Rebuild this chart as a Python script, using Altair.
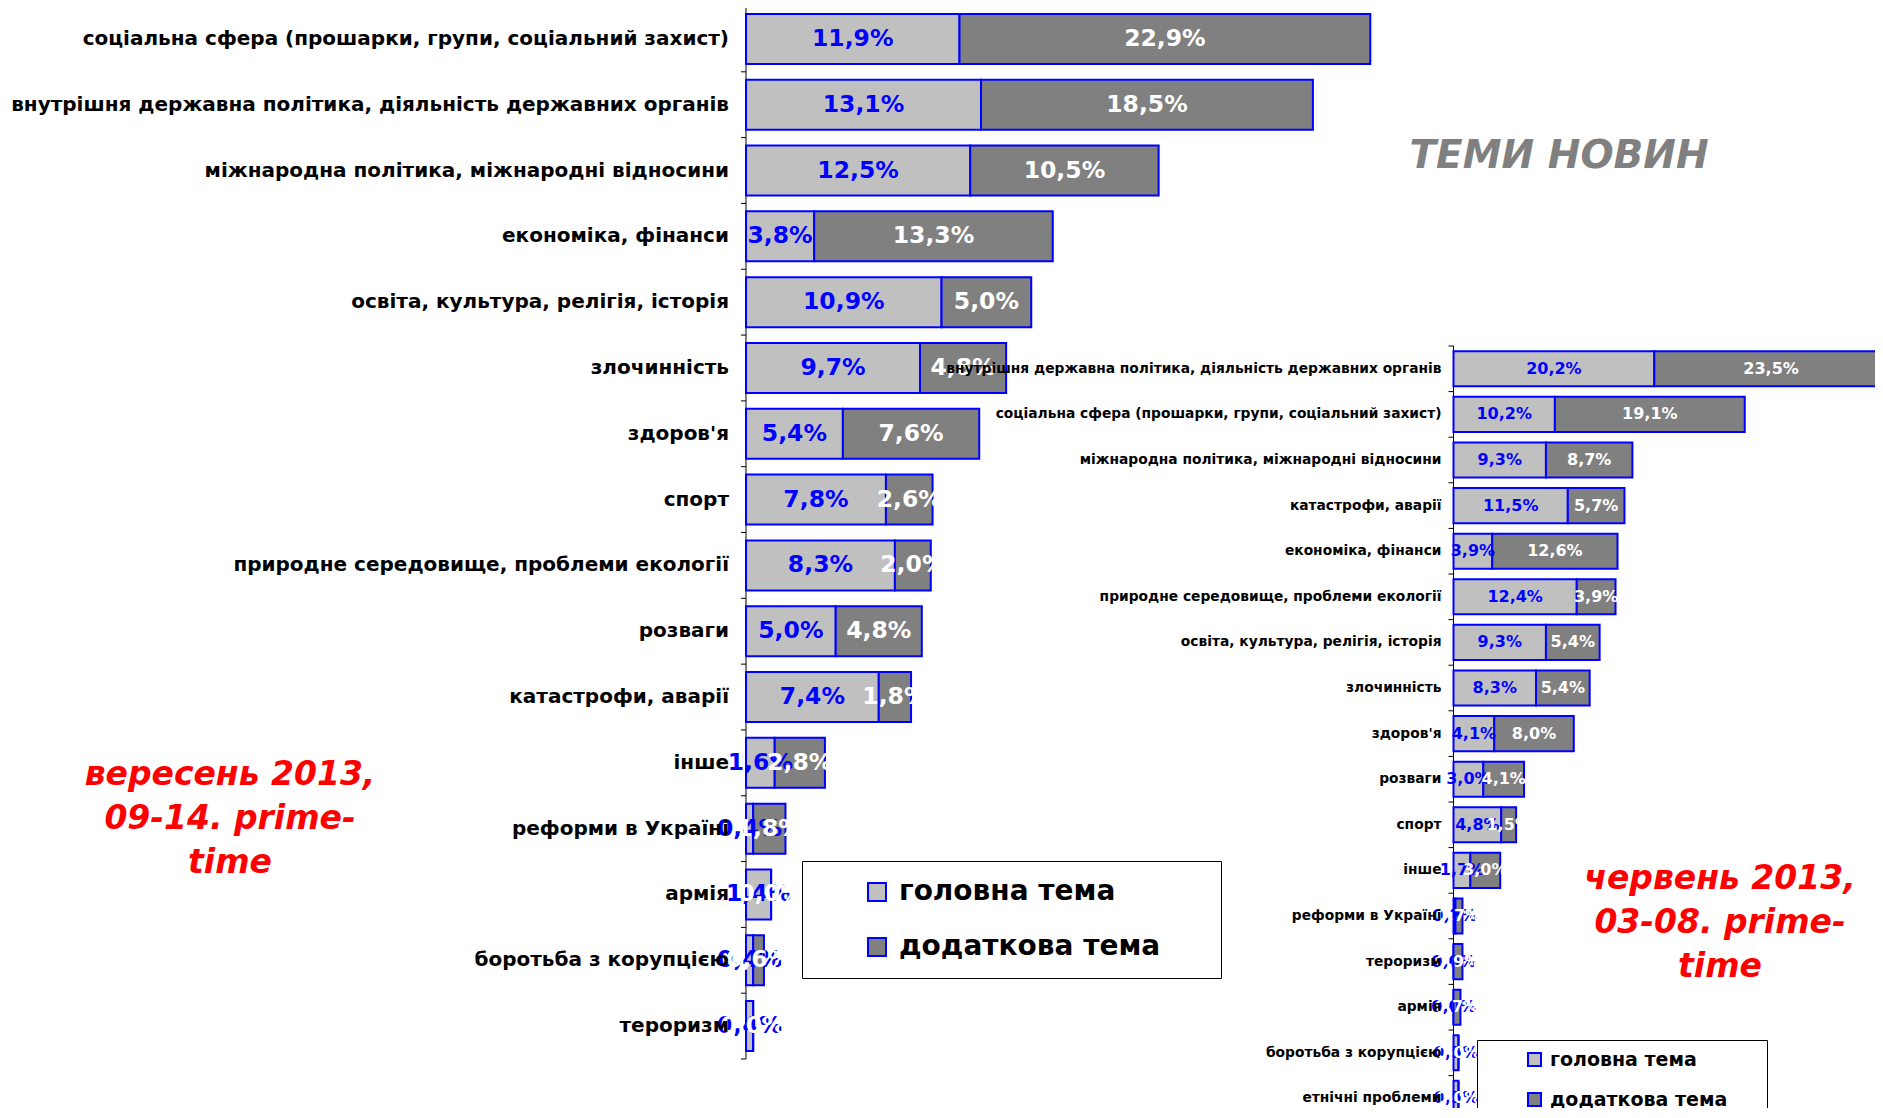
import altair as alt
import pandas as pd

# ---------------- data ----------------
cats_sep = [
    "соціальна сфера (прошарки, групи, соціальний захист)",
    "внутрішня державна політика, діяльність державних органів",
    "міжнародна політика, міжнародні відносини",
    "економіка, фінанси",
    "освіта, культура, релігія, історія",
    "злочинність",
    "здоров'я",
    "спорт",
    "природне середовище, проблеми екології",
    "розваги",
    "катастрофи, аварії",
    "інше",
    "реформи в Україні",
    "армія",
    "боротьба з корупцією",
    "тероризм",
]
main_sep = [11.9, 13.1, 12.5, 3.8, 10.9, 9.7, 5.4, 7.8, 8.3, 5.0, 7.4, 1.6, 0.4, 1.4, 0.4, 0.4]
add_sep = [22.9, 18.5, 10.5, 13.3, 5.0, 4.8, 7.6, 2.6, 2.0, 4.8, 1.8, 2.8, 1.8, 0.0, 0.6, 0.0]

cats_jun = [
    "внутрішня державна політика, діяльність державних органів",
    "соціальна сфера (прошарки, групи, соціальний захист)",
    "міжнародна політика, міжнародні відносини",
    "катастрофи, аварії",
    "економіка, фінанси",
    "природне середовище, проблеми екології",
    "освіта, культура, релігія, історія",
    "злочинність",
    "здоров'я",
    "розваги",
    "спорт",
    "інше",
    "реформи в Україні",
    "тероризм",
    "армія",
    "боротьба з корупцією",
    "етнічні проблеми",
]
main_jun = [20.2, 10.2, 9.3, 11.5, 3.9, 12.4, 9.3, 8.3, 4.1, 3.0, 4.8, 1.7, 0.2, 0.0, 0.0, 0.5, 0.5]
add_jun = [23.5, 19.1, 8.7, 5.7, 12.6, 3.9, 5.4, 5.4, 8.0, 4.1, 1.5, 3.0, 0.7, 0.9, 0.7, 0.0, 0.0]

series = ["головна тема", "додаткова тема"]
title_text = ["ТЕМИ НОВИН"]
note_sep = ["вересень 2013,", "09-14. prime-", "time"]
note_jun = ["червень 2013,", "03-08. prime-", "time"]

FONT = "DejaVu Sans"
BLUE = "#0000FF"


def fmt(v):
    return f"{v:.1f}".replace(".", ",") + "%"


def long_df(cats, main, add):
    rows = []
    for c, m, a in zip(cats, main, add):
        rows.append({"cat": c, "тема": series[0], "start": 0.0, "end": m,
                     "mid": m / 2, "label": fmt(m)})
        rows.append({"cat": c, "тема": series[1], "start": m, "end": m + a,
                     "mid": m + a / 2, "label": fmt(a)})
    return pd.DataFrame(rows)


def panel(cats, main, add, x_range, y_range, pad_in, pad_out,
          axis_font, value_font, label_gap, legend):
    df = long_df(cats, main, add)
    step = (y_range[1] - y_range[0]) / len(cats)
    yscale = alt.Scale(domain=cats, range=y_range, paddingInner=pad_in,
                       paddingOuter=pad_out)
    xscale = alt.Scale(domain=[0, 100], range=x_range)
    Y = alt.Y("cat:N", sort=None, scale=yscale, axis=None)
    X0 = alt.X("zero:Q", scale=xscale, axis=None)
    base = alt.Chart(df)
    bars = base.mark_bar(stroke=BLUE, strokeWidth=2, clip=True).encode(
        y=Y,
        x=alt.X("start:Q", scale=xscale, axis=None),
        x2="end:Q",
        color=alt.Color("тема:N", sort=series,
                        scale=alt.Scale(domain=series, range=["#C0C0C0", "#808080"]),
                        legend=legend),
    )
    t_main = base.transform_filter(alt.datum["тема"] == series[0]).mark_text(
        font=FONT, fontWeight="bold", fontSize=value_font, color=BLUE,
        baseline="middle", align="center", clip=True
    ).encode(y=Y, x=alt.X("mid:Q", scale=xscale, axis=None), text="label:N")
    t_add = base.transform_filter(alt.datum["тема"] == series[1]).mark_text(
        font=FONT, fontWeight="bold", fontSize=value_font, color="white",
        baseline="middle", align="center", clip=True
    ).encode(y=Y, x=alt.X("mid:Q", scale=xscale, axis=None), text="label:N")

    cat_df = pd.DataFrame({"cat": cats, "zero": 0.0})
    labels = alt.Chart(cat_df).mark_text(
        font=FONT, fontWeight="bold", fontSize=axis_font, color="black",
        align="right", baseline="middle", dx=-label_gap
    ).encode(y=Y, x=X0, text="cat:N")
    ticks_top = alt.Chart(cat_df).mark_rule(
        color="black", strokeWidth=1, yOffset=-step / 2, y2Offset=-step / 2,
        x2Offset=-5
    ).encode(y=Y, x=X0, x2="zero:Q")
    ticks_bot = alt.Chart(cat_df.tail(1)).mark_rule(
        color="black", strokeWidth=1, yOffset=step / 2, y2Offset=step / 2,
        x2Offset=-5
    ).encode(y=Y, x=X0, x2="zero:Q")
    dom_df = pd.DataFrame({"a": [cats[0]], "b": [cats[-1]], "zero": [0.0]})
    domain = alt.Chart(dom_df).mark_rule(
        color="black", strokeWidth=1, yOffset=-step / 2, y2Offset=step / 2
    ).encode(y=alt.Y("a:N", sort=None, scale=yscale, axis=None), y2="b:N", x=X0)
    return alt.layer(domain, ticks_top, ticks_bot, bars, t_main, t_add, labels)


PAD = "\u2800"
legend_left = alt.Legend(
    orient="none", legendX=794, legendY=853, title=" ", titleOrient="left",
    titlePadding=44, padding=17, strokeColor="black", fillColor="white",
    symbolType="square", symbolSize=324, symbolStrokeColor=BLUE,
    symbolStrokeWidth=2, labelFont=FONT, labelFontWeight="bold",
    labelFontSize=28, labelColor="black", rowPadding=27, labelOffset=8,
    labelLimit=2000,
    labelExpr="datum.label + '" + PAD * 2 + "'",
)
legend_right = alt.Legend(
    orient="none", legendX=1469, legendY=1032, title=" ", titleOrient="left",
    titlePadding=38, padding=10, strokeColor="black", fillColor="white",
    symbolType="square", symbolSize=169, symbolStrokeColor=BLUE,
    symbolStrokeWidth=2, labelFont=FONT, labelFontWeight="bold",
    labelFontSize=19, labelColor="black", rowPadding=19, labelOffset=6,
    labelLimit=2000,
    labelExpr="datum.label + '" + PAD * 2 + "'",
)

left = panel(cats_sep, main_sep, add_sep, [738, 2532], [-2, 1051], 0.24, 0.12,
             20, 23.5, 17, legend_left)
right = panel(cats_jun, main_jun, add_jun, [1445.5, 2439.5], [338, 1113.2], 0.23,
              0.115, 13.8, 16, 12, legend_right)

# annotations
ann_title = alt.Chart(pd.DataFrame({"t": title_text})).mark_text(
    font=FONT, fontWeight="bold", fontStyle="italic", fontSize=39,
    color="#808080", align="center", baseline="middle"
).encode(text="t:N", x=alt.value(1551), y=alt.value(148))

ann_sep = alt.Chart(pd.DataFrame({"t": [note_sep]})).mark_text(
    font=FONT, fontWeight="bold", fontStyle="italic", fontSize=33,
    color="#FF0000", align="center", baseline="middle", lineHeight=44
).encode(text="t", x=alt.value(222), y=alt.value(767))

ann_jun = alt.Chart(pd.DataFrame({"t": [note_jun]})).mark_text(
    font=FONT, fontWeight="bold", fontStyle="italic", fontSize=33,
    color="#FF0000", align="center", baseline="middle", lineHeight=44
).encode(text="t", x=alt.value(1712), y=alt.value(871))

chart = alt.layer(left, right, ann_title, ann_sep, ann_jun).resolve_scale(
    x="independent", y="independent", color="independent"
).properties(
    width=1867, height=1100, autosize="none", padding=0, background="white"
).configure_view(stroke=None)

chart.save("out.html", embed_options={"renderer": "svg", "actions": False})
